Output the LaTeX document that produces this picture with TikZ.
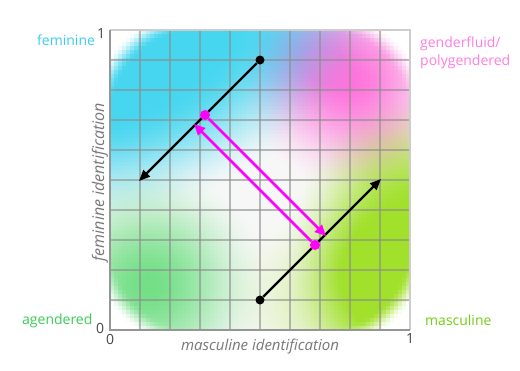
\documentclass[tikz,border=0pt]{standalone}
\usepackage{fontspec}
\setmainfont{Open Sans}
\usetikzlibrary{arrows.meta}
\definecolor{femc}{RGB}{60,205,235}
\definecolor{fluidc}{RGB}{255,125,225}
\definecolor{agenc}{RGB}{60,205,85}
\definecolor{mascc}{RGB}{115,205,20}
\definecolor{numgray}{RGB}{70,70,70}
\definecolor{labgray}{RGB}{120,120,120}
\definecolor{gridgray}{RGB}{140,140,140}
\definecolor{axdark}{RGB}{150,150,150}
\definecolor{axlight}{RGB}{205,205,205}
\definecolor{magc}{RGB}{255,0,255}
\newcommand\blobw[8]{%
  \edef\bd{\fpeval{((abs(\u-(#2))/(#4))^(#6)+(abs(\v-(#3))/(#5))^(#6))^(1/(#6))}}%
  \edef\bt{\fpeval{max(0,min(1,(1-\bd)/(1-(#7))))}}%
  \edef#1{\fpeval{(#8)*\bt*\bt*(3-2*\bt)}}%
}
\begin{document}
\begin{tikzpicture}[x=1pt,y=-1pt,
  catlab/.style={font=\fontsize{14}{16}\selectfont, inner sep=0pt},
  numlab/.style={font=\fontsize{14}{16}\selectfont, text=numgray, inner sep=0pt},
  axlab/.style={font=\fontsize{15}{17}\selectfont\itshape, text=labgray, inner sep=0pt},
  blkdot/.style={circle, fill=black, inner sep=0pt, minimum size=9pt},
  magdot/.style={circle, fill=magc, inner sep=0pt, minimum size=10pt},
  blkarrow/.style={draw=black, line width=2.4pt, -{Triangle[length=11pt,width=9pt]}},
  magarrow/.style={draw=magc, line width=2.6pt, -{Triangle[length=11pt,width=10pt]}},
  gridline/.style={draw=gridgray, line width=1.3pt, opacity=0.6}]
\useasboundingbox (0,0) rectangle (520,370);
\fill[white] (0,0) rectangle (520,370);
% colour field
\begin{scope}
\clip (110,30) rectangle (410,330);
\def\rc{0.3}
\foreach \i in {0,...,74}{
  \foreach \j in {0,...,74}{
    \edef\u{\fpeval{(\i+0.5)/75}}%
    \edef\v{\fpeval{(\j+0.5)/75}}%
    \blobw\wa{0}{1}{0.92}{0.66}{1.5}{0.45}{1}%
    \blobw\wb{0.8}{0.83}{0.38}{0.38}{2}{0}{1}%
    \blobw\wc{0.13}{0.15}{0.42}{0.42}{2}{0}{0.95}%
    \blobw\wd{1.02}{0.25}{0.45}{0.55}{2}{0.3}{1}%
    \blobw\we{0.8}{0.1}{0.45}{0.35}{2}{0.1}{0.35}%
    \edef\qx{\fpeval{max(abs(\u-0.5)-(0.5-\rc),0)}}%
    \edef\qy{\fpeval{max(abs(\v-0.5)-(0.5-\rc),0)}}%
    \edef\mt{\fpeval{max(0,min(1,(0.07-(sqrt(\qx^2+\qy^2)-\rc))/0.07))}}%
    \edef\mm{\fpeval{\mt*\mt*(3-2*\mt)}}%
    \edef\W{\fpeval{\wa+\wb+\wc+\wd+\we}}%
    \edef\s{\fpeval{\mm/max(1,\W)}}%
    \edef\gr{\fpeval{\mm*0.03*max(0,1-\W)}}%
    \edef\R{\fpeval{round(1-\gr-\s*(\wa*0.72+\wb*0+\wc*0.58+(\wd+\we)*0.37),3)}}%
    \edef\G{\fpeval{round(1-\gr-\s*(\wa*0.16+\wb*0.55+\wc*0.13+(\wd+\we)*0.12),3)}}%
    \edef\B{\fpeval{round(1-\gr-\s*(\wa*0.06+\wb*0.14+\wc*0.5+(\wd+\we)*0.83),3)}}%
    \definecolor{cc}{rgb}{\R,\G,\B}%
    \fill[cc] ({110+4*\i},{330-4*\j}) rectangle ++(4.4,-4.4);
  }
}
\end{scope}
% grid
\foreach \k in {1,...,9}{
  \draw[gridline] ({110+30*\k},30) -- ({110+30*\k},330);
  \draw[gridline] (110,{30+30*\k}) -- (410,{30+30*\k});
}
\draw[axlight, line width=2pt] (110,30) -- (410,30) -- (410,330);
\draw[axdark, line width=2pt] (110,30) -- (110,330) -- (410,330);
% connectors
\node[blkdot] (a1) at (260,60) {};
\coordinate (a1e) at (139,181);
\node[blkdot] (b1) at (260,300) {};
\coordinate (b1e) at (381,179);
\draw[blkarrow] (a1) -- (a1e);
\draw[blkarrow] (b1) -- (b1e);
\node[magdot] (m1) at (205,115) {};
\node[magdot] (m2) at (315,245) {};
\coordinate (m1e) at (326,236);
\coordinate (m2e) at (194,124);
\draw[magarrow] (m1) -- (m1e);
\draw[magarrow] (m2) -- (m2e);
% labels
\node[catlab, text=femc, anchor=base west] (lfem) at (37,45) {feminine};
\node[catlab, text=fluidc, anchor=base west] (lgf1) at (420,47) {genderfluid/};
\node[catlab, text=fluidc, anchor=base west] (lgf2) at (420,65) {polygendered};
\node[catlab, text=agenc, anchor=base west] (lagen) at (22,324) {agendered};
\node[catlab, text=mascc, anchor=base west] (lmasc) at (425,325) {masculine};
\node[numlab, anchor=base west] (n1y) at (97,38) {1};
\node[numlab, anchor=base west] (n0y) at (96,333) {0};
\node[numlab, anchor=base west] (n0x) at (106,344) {0};
\node[numlab, anchor=base west] (n1x) at (406,343) {1};
\node[axlab, anchor=base] (xlab) at (260,350) {masculine identification};
\node[axlab, anchor=base, rotate=90, font=\fontsize{16}{18}\selectfont\itshape] (ylab) at (104,182) {feminine identification};
\end{tikzpicture}
\end{document}
